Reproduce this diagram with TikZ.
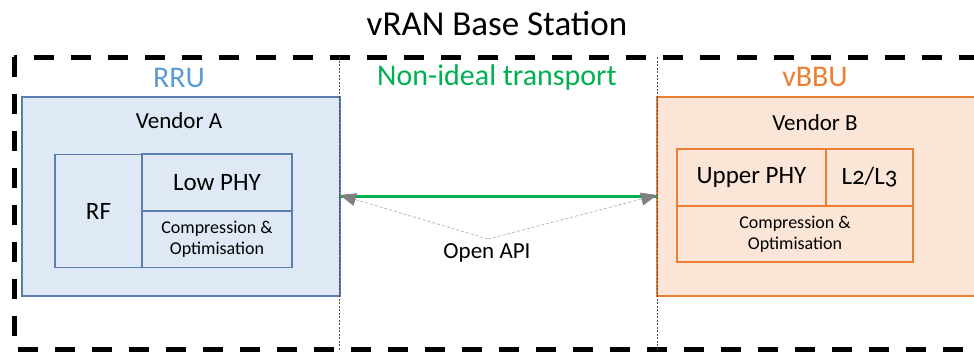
\documentclass[tikz,border=0pt]{standalone}
\usepackage{fontspec}
\setmainfont{Carlito}
\usetikzlibrary{arrows.meta,positioning}
\definecolor{rrutext}{HTML}{5B9BD5}
\definecolor{rruline}{HTML}{5A7FAE}
\definecolor{rrufill}{HTML}{DEE9F5}
\definecolor{bbuline}{HTML}{ED7D31}
\definecolor{bbufill}{HTML}{FBE5D6}
\definecolor{linkgreen}{HTML}{00B050}
\definecolor{apigray}{HTML}{808080}
\def\fs#1{\fontsize{#1}{#1}\selectfont}
\tikzset{
	unit/.style={draw, line width=1.3pt, inner sep=0pt, outer sep=0pt},
	rrubox/.style={unit, draw=rruline, fill=rrufill},
	bbubox/.style={unit, draw=bbuline, fill=bbufill},
	part/.style={draw, line width=1.2pt, inner sep=0pt, outer sep=0pt, align=center},
	small/.style={font=\fontsize{18}{21}\selectfont},
	api/.style={densely dashed, draw=black!30, line width=0.7pt, -{Triangle[length=16pt,width=13pt,color=apigray,fill=apigray]}},
	split/.style={dash pattern=on 2pt off 1.5pt, line width=0.6pt, black!70}
}
\begin{document}
\begin{tikzpicture}[x=1pt,y=-1pt]
	%%%%% START %%%%%
	\clip (0,0) rectangle (974,351);
	
	\node (title) at (497,24) {\fs{35}vRAN Base Station};
	\draw[line width=5pt, dash pattern=on 20pt off 17pt] (14,57) rectangle (1000,349);
	
	% RRU side
	\node[rrubox, minimum width=318pt, minimum height=199pt] (rru) at (181,196.5) {};
	\node[text=rrutext] (rrulabel) at (179,78) {\fs{30}RRU};
	\node (vendora) at (179,121) {\fs{23}Vendor A};
	\node[part, draw=rruline, minimum width=87pt, minimum height=113pt] (rf) at (98.5,211) {\fs{25}RF};
	\node[part, draw=rruline, minimum width=150pt, minimum height=57pt] (lowphy) at (217,182.5) {\fs{25}Low PHY};
	\node[part, small, draw=rruline, minimum width=150pt, minimum height=56pt] (compa) at (217,239.5) {Compression \&\\Optimisation};
	
	% vBBU side
	\node[bbubox, minimum width=318pt, minimum height=199pt] (vbbu) at (816,196.5) {};
	\node[text=bbuline] (vbbulabel) at (815,77) {\fs{30}vBBU};
	\node (vendorb) at (815,123) {\fs{23}Vendor B};
	\node[part, draw=bbuline, minimum width=149pt, minimum height=57pt] (upperphy) at (751.5,177.5) {\fs{25}Upper PHY};
	\node[part, draw=bbuline, minimum width=87pt, minimum height=57pt] (higher) at (869.5,177.5) {\fs{25}\addfontfeatures{Numbers=OldStyle}L2/L3};
	\node[part, small, draw=bbuline, minimum width=236pt, minimum height=56pt] (compb) at (795,234) {Compression \&\\Optimisation};
	
	% transport
	\draw[split] (339,57) -- (339,351);
	\draw[split] (657,57) -- (657,351);
	\node[text=linkgreen] (transport) at (497,77) {\fs{30}Non-ideal transport};
	\draw[linkgreen, line width=3.5pt] (rru.east) -- (vbbu.west);
	
	\coordinate (apex) at (488,239);
	\node (openapi) at (487,253) {\fs{23}Open API};
	\draw[api] (apex) -- ([yshift=1.5pt]rru.east);
	\draw[api] (apex) -- ([yshift=1.5pt]vbbu.west);
	%%%%% END %%%%%
\end{tikzpicture}
\end{document}
